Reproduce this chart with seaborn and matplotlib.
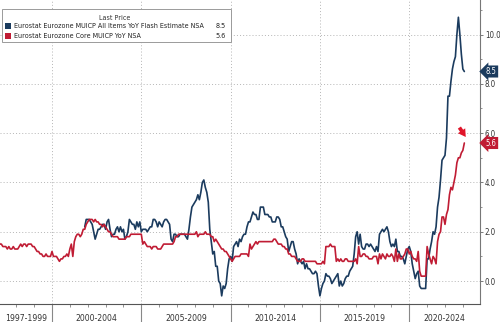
import numpy as np
import pandas as pd
import matplotlib
matplotlib.use("Agg")
import matplotlib.pyplot as plt
import matplotlib.transforms as mtransforms
from matplotlib.patches import Rectangle
from matplotlib import font_manager as fm
import seaborn as sns

# ---------------- data ----------------
headline_name = "Eurostat Eurozone MUICP All Items YoY Flash Estimate NSA"
core_name = "Eurostat Eurozone Core MUICP YoY NSA"
headline_start = 2001 + 10 / 12   # Nov 2001
core_start = 1997.0               # Jan 1997

headline_yoy = [
    2.2, 2.5,
    2.5, 2.5, 2.4, 2.3, 2.0, 1.7, 1.9, 2.1, 2.1, 2.2, 2.3, 2.3,
    2.1, 2.4, 2.5, 2.1, 1.8, 1.9, 1.9, 2.1, 2.2, 2.0, 2.2, 2.0,
    2.1, 1.7, 1.8, 2.0, 2.5, 2.4, 2.3, 2.3, 2.1, 2.4, 2.2, 2.4,
    2.0, 2.1, 2.1, 2.1, 2.0, 2.1, 2.2, 2.2, 2.5, 2.5, 2.4, 2.2,
    2.4, 2.3, 2.2, 2.4, 2.5, 2.5, 2.4, 2.3, 1.7, 1.6, 1.9, 1.9,
    1.8, 1.8, 1.9, 1.9, 1.9, 1.9, 1.8, 1.7, 2.1, 2.6, 3.0, 3.1,
    3.2, 3.3, 3.5, 3.3, 3.6, 4.0, 4.1, 3.8, 3.6, 3.2, 2.1, 1.6,
    1.1, 1.2, 0.6, 0.6, 0.0, -0.1, -0.6, -0.2, -0.3, -0.1, 0.5, 0.9,
    1.0, 0.8, 1.4, 1.5, 1.6, 1.4, 1.7, 1.6, 1.8, 1.9, 1.9, 2.2,
    2.4, 2.4, 2.6, 2.8, 2.7, 2.7, 2.5, 2.5, 3.0, 3.0, 3.0, 2.7,
    2.7, 2.7, 2.6, 2.6, 2.4, 2.4, 2.4, 2.6, 2.6, 2.5, 2.2, 2.2,
    2.0, 1.8, 1.7, 1.2, 1.4, 1.6, 1.6, 1.3, 1.1, 0.7, 0.9, 0.8,
    0.7, 0.8, 0.5, 0.7, 0.5, 0.5, 0.4, 0.3, 0.3, 0.4, 0.3, -0.2,
    -0.6, -0.3, -0.1, 0.0, 0.3, 0.2, 0.2, 0.1, -0.1, 0.0, 0.1, 0.2,
    0.3, -0.2, 0.0, -0.2, -0.1, 0.1, 0.2, 0.2, 0.4, 0.5, 0.6, 1.1,
    1.8, 2.0, 1.5, 1.9, 1.4, 1.3, 1.3, 1.5, 1.5, 1.4, 1.5, 1.4,
    1.3, 1.2, 1.4, 1.2, 1.9, 2.0, 2.1, 2.0, 2.1, 2.2, 2.0, 1.6,
    1.4, 1.5, 1.4, 1.7, 1.2, 1.2, 1.0, 1.0, 0.9, 0.7, 1.0, 1.3,
    1.4, 1.2, 0.7, 0.4, 0.1, 0.3, 0.4, -0.2, -0.3, -0.3, -0.3, -0.3,
    0.9, 0.9, 1.3, 1.6, 2.0, 1.9, 2.2, 3.0, 3.4, 4.1, 4.9, 5.0,
    5.1, 5.8, 7.5, 7.5, 8.1, 8.6, 8.9, 9.1, 10.0, 10.7, 10.0, 9.2,
    8.6, 8.5,
]

core_yoy = [
    1.6, 1.5, 1.5, 1.4, 1.4, 1.4, 1.3, 1.4, 1.3, 1.3, 1.4, 1.3,
    1.3, 1.3, 1.4, 1.5, 1.4, 1.5, 1.5, 1.4, 1.5, 1.5, 1.5, 1.4,
    1.4, 1.3, 1.2, 1.2, 1.1, 1.1, 1.0, 1.0, 1.1, 1.0, 1.0, 1.0,
    1.2, 1.0, 1.0, 1.0, 0.9, 0.8, 0.9, 0.9, 1.0, 1.0, 1.1, 1.0,
    1.3, 1.5, 1.0, 1.6, 1.8, 1.9, 1.9, 1.8, 1.9, 2.1, 2.1, 2.3,
    2.4, 2.5, 2.5, 2.5, 2.4, 2.5, 2.4, 2.4, 2.3, 2.3, 2.2, 2.3,
    2.2, 2.1, 2.0, 2.0, 1.9, 1.8, 1.8, 1.8, 1.8, 1.7, 1.7, 1.7,
    1.7, 1.7, 1.8, 1.8, 1.8, 1.9, 1.9, 1.9, 1.9, 1.9, 1.9, 1.9,
    1.9, 1.5, 1.6, 1.5, 1.4, 1.4, 1.4, 1.3, 1.4, 1.4, 1.4, 1.3,
    1.3, 1.3, 1.4, 1.5, 1.5, 1.5, 1.5, 1.5, 1.5, 1.5, 1.6, 1.8,
    1.8, 1.9, 1.9, 1.9, 1.9, 1.9, 1.9, 1.9, 1.9, 1.9, 1.9, 1.9,
    1.9, 2.0, 1.8, 1.9, 1.9, 1.9, 1.9, 2.0, 1.9, 1.9, 1.9, 1.8,
    1.8, 1.6, 1.7, 1.6, 1.5, 1.4, 1.3, 1.3, 1.2, 1.2, 1.1, 1.0,
    0.9, 0.8, 0.9, 1.0, 1.0, 1.0, 1.0, 1.1, 1.1, 1.1, 1.1, 1.1,
    1.0, 1.5, 1.3, 1.4, 1.5, 1.6, 1.5, 1.6, 1.6, 1.6, 1.6, 1.6,
    1.6, 1.6, 1.6, 1.6, 1.6, 1.7, 1.7, 1.6, 1.5, 1.5, 1.5, 1.4,
    1.4, 1.3, 1.3, 1.1, 1.1, 1.0, 1.0, 1.0, 0.9, 0.8, 0.8, 0.8,
    0.9, 0.9, 0.8, 0.8, 0.8, 0.8, 0.8, 0.8, 0.8, 0.8, 0.7, 0.7,
    0.7, 0.7, 0.8, 0.7, 1.4, 1.4, 1.4, 1.5, 1.4, 1.4, 1.4, 0.8,
    0.9, 0.8, 0.9, 0.8, 0.8, 0.9, 0.9, 0.8, 0.8, 0.8, 0.8, 0.8,
    0.9, 0.7, 1.4, 1.0, 1.0, 1.1, 1.1, 1.0, 1.0, 0.9, 0.9, 0.9,
    1.0, 1.0, 1.0, 0.7, 1.1, 0.9, 1.1, 1.0, 0.9, 1.1, 1.0, 1.0,
    1.1, 1.0, 0.8, 1.3, 0.8, 1.1, 0.9, 0.9, 1.0, 1.1, 1.3, 1.3,
    1.1, 1.2, 1.0, 0.9, 0.9, 0.8, 1.2, 0.4, 0.2, 0.2, 0.2, 0.2,
    1.4, 1.1, 0.9, 0.7, 1.0, 0.9, 0.7, 1.6, 1.9, 2.0, 2.6, 2.6,
    2.3, 2.7, 2.9, 3.5, 3.8, 3.7, 4.0, 4.3, 4.8, 5.0, 5.0, 5.2,
    5.3, 5.6,
]

period_labels = ["1997-1999", "2000-2004", "2005-2009", "2010-2014", "2015-2019", "2020-2024"]
period_bounds = [1997.09, 2000, 2005, 2010, 2015, 2020, 2023.96]
y_ticks = [0.0, 2.0, 4.0, 6.0, 8.0, 10.0]
legend_title = "Last Price"

BLUE = "#1b3b5e"
RED = "#c01c34"

# ---------------- font choice (narrow face if available) ----------------
sns.set_style("white")
_ttf = fm.fontManager.ttflist
_names = {f.name for f in _ttf}
if "Liberation Sans Narrow" in _names:
    FAM, STRETCH = "Liberation Sans Narrow", "normal"
elif any(f.name == "DejaVu Sans" and str(f.stretch) in ("condensed", "semi-condensed", "500", "600")
         for f in _ttf):
    FAM, STRETCH = "DejaVu Sans", "condensed"
elif "Roboto" in _names:
    FAM, STRETCH = "Roboto", "normal"
else:
    FAM, STRETCH = "Liberation Sans", "normal"
plt.rcParams["font.family"] = [FAM, "DejaVu Sans"]
plt.rcParams["font.stretch"] = STRETCH
TXT = dict(family=[FAM, "DejaVu Sans"], fontstretch=STRETCH)

# ---------------- frame ----------------
df = pd.concat([
    pd.DataFrame({"t": headline_start + np.arange(len(headline_yoy)) / 12,
                  "v": headline_yoy, "series": headline_name}),
    pd.DataFrame({"t": core_start + np.arange(len(core_yoy)) / 12,
                  "v": core_yoy, "series": core_name}),
])

W, H = 500, 322
fig = plt.figure(figsize=(W / 100, H / 100), dpi=100)
ax = fig.add_axes([0, 18 / H, 480 / W, 1 - 18 / H])

sns.lineplot(data=df, x="t", y="v", hue="series",
             hue_order=[headline_name, core_name],
             palette=[BLUE, RED], linewidth=1.2, legend=False, ax=ax)

ax.set_xlim(period_bounds[0], period_bounds[-1])
ax.set_ylim(-0.93, 11.4)
ax.set_xlabel("")
ax.set_ylabel("")

for s in ["top", "left"]:
    ax.spines[s].set_visible(False)
ax.spines["bottom"].set_color("#555555")
ax.spines["bottom"].set_linewidth(0.8)
ax.spines["right"].set_color("#777777")
ax.spines["right"].set_linewidth(0.8)

ax.yaxis.tick_right()
ax.set_yticks(y_ticks)
ax.set_yticklabels([f"{v:.1f}" for v in y_ticks])
ax.set_yticks([1, 3, 5, 7, 9, 11], minor=True)
ax.tick_params(axis="y", which="major", length=2.5, width=0.6, color="#666666",
               labelsize=5.7, labelcolor="#333333", pad=1.0, right=True, left=False)
ax.tick_params(axis="y", which="minor", length=1.5, width=0.5, color="#666666",
               right=True, left=False)

ax.set_xticks(period_bounds[1:-1])
ax.set_xticklabels([])
ax.set_xticks(np.arange(1998, 2024), minor=True)
ax.tick_params(axis="x", which="major", length=13.5, width=0.8, color="#888888",
               direction="out", bottom=True)
ax.tick_params(axis="x", which="minor", length=2.2, width=0.5, color="#666666",
               direction="out", bottom=True)

ax.grid(True, which="major", linestyle=(0, (1, 2.2)), color="#b5b5b5", linewidth=0.7)
ax.set_axisbelow(True)

trans = mtransforms.blended_transform_factory(ax.transData, ax.transAxes)
for lab, a, b in zip(period_labels, period_bounds[:-1], period_bounds[1:]):
    ax.text((a + b) / 2, -0.047, lab, transform=trans, ha="center", va="center",
            fontsize=6.2, color="#333333", clip_on=False, **TXT)

# right value tags
ttrans = mtransforms.blended_transform_factory(ax.transAxes, ax.transData)
for val, col in [(headline_yoy[-1], BLUE), (core_yoy[-1], RED)]:
    ax.text(1.012, val, f"{val:.1f}", transform=ttrans, ha="left", va="center",
            fontsize=5.5, color="white", clip_on=False, **TXT,
            bbox=dict(boxstyle="larrow,pad=0.2", fc=col, ec="none"))

# red arrow annotation
ax.annotate("", xy=(2023.25, 5.75), xytext=(2022.72, 6.32),
            arrowprops=dict(arrowstyle="simple,head_width=0.7,head_length=0.6,tail_width=0.3",
                            fc="#e0152a", ec="none", mutation_scale=9))

# legend box (manual, figure pixel coords)
def fx(px):
    return px / W

def fy(py):
    return 1 - py / H

fig.patches.append(Rectangle((fx(2), fy(42)), fx(229) - fx(0), fy(9) - fy(42),
                             transform=fig.transFigure, fc="white", ec="#9a9a9a",
                             lw=0.7, zorder=5))
leg_texts = []
leg_texts.append(fig.text(fx(115), fy(18), legend_title, ha="center", va="center",
                          fontsize=6.5, color="#333333", zorder=6, **TXT))
name_texts = []
for i, (name, val, col) in enumerate([(headline_name, headline_yoy[-1], BLUE),
                                      (core_name, core_yoy[-1], RED)]):
    yy = 25.7 + i * 10
    fig.patches.append(Rectangle((fx(5), fy(yy + 3)), fx(6), fy(0) - fy(6),
                                 transform=fig.transFigure, fc=col, ec="none", zorder=6))
    t = fig.text(fx(14), fy(yy), name, ha="left", va="center", fontsize=6.5,
                 color="#222222", zorder=6, **TXT)
    name_texts.append(t)
    leg_texts.append(t)
    leg_texts.append(fig.text(fx(226), fy(yy), f"{val:.1f}", ha="right", va="center",
                              fontsize=6.5, color="#222222", zorder=6, **TXT))

# fit the legend font so the long name spans ~188 px as in the reference
renderer = fig.canvas.get_renderer()
wname = name_texts[0].get_window_extent(renderer).width
scale = min(1.15, 188.0 / wname)
for t in leg_texts:
    t.set_fontsize(t.get_fontsize() * scale)

fig.savefig("out.png", dpi=100, facecolor="white")
